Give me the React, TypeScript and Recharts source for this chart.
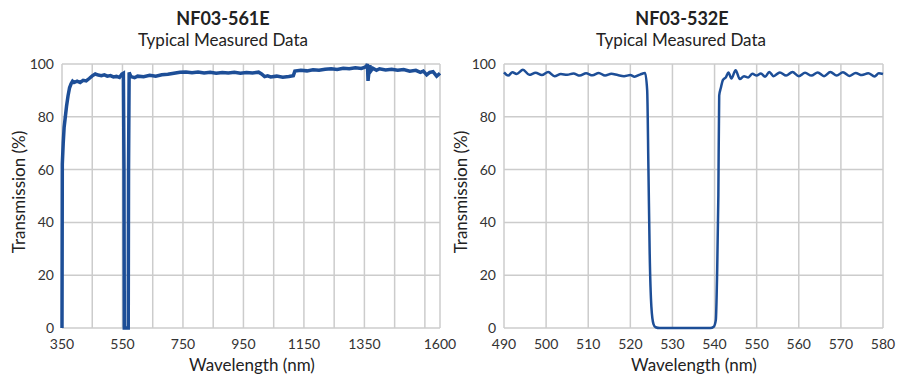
import { LineChart, Line, XAxis, YAxis, CartesianGrid } from "recharts";

// NF03-561E measured curve (nm, %T)
const leftWavelength = [
  350, 350.5, 351, 354, 357, 360, 365, 370, 375, 380, 385, 390, 400, 410, 420, 430, 440, 450, 460, 470,
  480, 490, 500, 510, 520, 530, 540, 548, 553, 555, 556, 569, 570, 572, 578, 590, 600, 620, 640, 660,
  680, 700, 720, 740, 760, 780, 800, 820, 840, 860, 880, 900, 920, 940, 960, 980, 1000, 1010, 1020, 1030,
  1040, 1060, 1080, 1100, 1115, 1120, 1140, 1160, 1180, 1200, 1220, 1240, 1260, 1280, 1300, 1320, 1340, 1350, 1356, 1360,
  1362, 1365, 1368, 1372, 1378, 1390, 1400, 1420, 1440, 1460, 1480, 1500, 1520, 1535, 1545, 1556, 1566, 1577, 1589, 1600,
];
const leftTransmission = [
  0, 30, 62, 70, 76, 79, 84, 88, 91, 92.5, 93.5, 93, 93.5, 93, 93.8, 93.6, 94.5, 95.5, 96.2, 95.8,
  95.6, 95.9, 95.4, 95.6, 95.1, 95.3, 94.9, 96.2, 96.5, 60, 0, 0, 60, 96.8, 95.2, 94.8, 95.4, 95.2, 95.7, 95.4,
  95.9, 96.1, 96.5, 96.9, 97, 96.7, 97, 96.6, 96.9, 96.5, 96.8, 96.6, 96.9, 96.5, 96.8, 96.6, 96.9, 96.2, 95.2, 95.5,
  95.1, 95.4, 95, 95.3, 95.6, 97.3, 97.6, 97.4, 97.8, 97.6, 98, 98.2, 97.9, 98.4, 98.2, 98.6, 98.3, 98.7, 99, 100,
  93.6, 97, 99.5, 97.5, 98.4, 97.6, 98.2, 97.7, 98, 97.6, 97.9, 97.3, 97.6, 96.8, 97.3, 95.9, 96.8, 97.1, 95.4, 96.5,
];

// NF03-532E measured curve (nm, %T)
const rightWavelength = [
  490, 491, 492, 493, 494.5, 496, 497.5, 499, 500.5, 502, 503.5, 505, 506.5, 508, 509.5, 511, 512.5, 514, 515.5, 517,
  518.5, 520, 521, 522.3, 523.5, 524, 524.3, 524.6, 525, 525.5, 526, 527, 539, 539.8, 540.3, 540.6, 540.9, 541.1, 541.5, 542,
  542.7, 543.3, 544, 545, 546, 547, 548, 549, 550, 551, 552, 553, 554, 555.5, 557, 558.5, 560, 561.5, 563, 564.5,
  566, 567.5, 569, 570.5, 572, 573.5, 575, 576.5, 578, 579, 580,
];
const rightTransmission = [
  96.8, 95.6, 96.9, 96.2, 97.8, 95.9, 96.7, 95.8, 97, 95.4, 96.2, 95.9, 96.4, 95.6, 96.5, 95.7, 96.6, 95.6, 96.3, 95.8,
  95.4, 95.8, 95.2, 96, 96.6, 90, 60, 28, 8, 1.5, 0.3, 0, 0, 0.5, 3, 20, 50, 88, 91, 94,
  95, 96.8, 94.5, 97.6, 94.3, 95.4, 94.9, 96.3, 95.6, 96.4, 95.2, 97, 95.4, 96.8, 95.6, 97, 95.4, 96.7, 95.6, 96.8,
  95.4, 97, 95.6, 96.9, 95.5, 96.6, 95.8, 96.5, 95.3, 96.5, 96.2,
];

const yTicks = [0, 20, 40, 60, 80, 100];
const leftTicks = [350, 450, 550, 650, 750, 850, 950, 1050, 1150, 1250, 1350, 1450, 1550, 1600];
const leftLabelled = [350, 550, 750, 950, 1150, 1350, 1600];
const rightTicks = [490, 500, 510, 520, 530, 540, 550, 560, 570, 580];

const leftData = leftWavelength.map((w, i) => ({ w, t: leftTransmission[i] }));
const rightData = rightWavelength.map((w, i) => ({ w, t: rightTransmission[i] }));

const blue = "#1d4e97";
const grid = "#cccccc";
const font = "Lato, 'Open Sans', sans-serif";
const tickStyle = { fontSize: 14, fill: "#333", fontFamily: font };

type PanelProps = {
  left: number;
  width: number;
  data: { w: number; t: number }[];
  domain: [number, number];
  ticks: number[];
  labelled?: number[];
  lineType: "linear" | "monotone";
  strokeWidth: number;
  rightMargin: number;
};

const Panel = (p: PanelProps) => (
  <div style={{ position: "absolute", left: p.left, top: 0 }}>
    <LineChart
      width={p.width}
      height={375}
      data={p.data}
      margin={{ top: 64, right: p.rightMargin, left: 0, bottom: 17 }}
      style={{ overflow: "visible" }}
    >
      <CartesianGrid stroke={grid} strokeWidth={1.5} />
      <XAxis
        dataKey="w"
        type="number"
        domain={p.domain}
        ticks={p.ticks}
        interval={0}
        height={30}
        tickLine={false}
        axisLine={false}
        tickMargin={5}
        tick={tickStyle}
        tickFormatter={(v: number) => (!p.labelled || p.labelled.includes(v) ? String(v) : "")}
      />
      <YAxis
        type="number"
        domain={[0, 100]}
        ticks={yTicks}
        interval={0}
        width={62}
        tickLine={false}
        axisLine={false}
        tick={tickStyle}
      />
      <Line
        dataKey="t"
        type={p.lineType}
        stroke={blue}
        strokeWidth={p.strokeWidth}
        dot={false}
        isAnimationActive={false}
      />
    </LineChart>
  </div>
);

export default function App() {
  return (
    <div
      style={{
        position: "absolute",
        left: 0,
        top: 0,
        width: 897,
        height: 375,
        overflow: "hidden",
        background: "#fff",
      }}
    >
      <Panel
        left={0}
        width={460}
        data={leftData}
        domain={[350, 1600]}
        ticks={leftTicks}
        labelled={leftLabelled}
        lineType="linear"
        strokeWidth={3.5}
        rightMargin={20}
      />
      <Panel
        left={442}
        width={455}
        data={rightData}
        domain={[490, 580]}
        ticks={rightTicks}
        lineType="monotone"
        strokeWidth={2.5}
        rightMargin={14}
      />
      <svg
        width={897}
        height={375}
        style={{ position: "absolute", left: 0, top: 0, pointerEvents: "none" }}
        fontFamily={font}
        fill="#222"
      >
        <text x={223} y={25} textAnchor="middle" fontSize={18} fontWeight="bold">NF03-561E</text>
        <text x={223} y={46} textAnchor="middle" fontSize={17}>Typical Measured Data</text>
        <text x={682} y={25} textAnchor="middle" fontSize={18} fontWeight="bold">NF03-532E</text>
        <text x={681} y={46} textAnchor="middle" fontSize={17}>Typical Measured Data</text>
        <text x={252} y={371} textAnchor="middle" fontSize={17}>Wavelength (nm)</text>
        <text x={694} y={371} textAnchor="middle" fontSize={17}>Wavelength (nm)</text>
        <text x={25} y={192} textAnchor="middle" fontSize={17} transform="rotate(-90 25 192)">Transmission (%)</text>
        <text x={467} y={192} textAnchor="middle" fontSize={17} transform="rotate(-90 467 192)">Transmission (%)</text>
      </svg>
    </div>
  );
}
